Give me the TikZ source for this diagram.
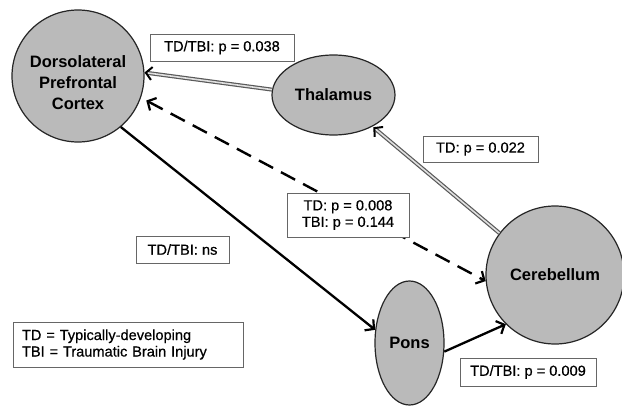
\documentclass[tikz,border=0pt]{standalone}
\usepackage{fontspec}
\setmainfont{Liberation Sans}
\newfontfamily\labfont{Liberation Sans}[FakeBold=0.5]
\usetikzlibrary{arrows.meta,shapes.geometric}
\begin{document}
\begin{tikzpicture}[x=1pt,y=-1pt,
  region/.style={draw=black!85, line width=1.2pt, fill=black!27, inner sep=0pt},
  regiontext/.style={font=\fontsize{16.5}{21}\selectfont\bfseries, align=center, inner sep=0pt},
  lab/.style={draw=black!60, line width=0.8pt, fill=white, font=\labfont\fontsize{14.6}{16.5}\selectfont, inner sep=0pt, align=center},
  chev/.style={-{Straight Barb[length=6.5pt,width=14pt,line width=2.2pt]}},
  solidarrow/.style={line width=2.3pt, chev},
  dashedarrow/.style={line width=2.4pt, dash pattern=on 16pt off 9pt, {Straight Barb[length=6.5pt,width=14pt,line width=2.2pt]}-{Straight Barb[length=6.5pt,width=14pt,line width=2.2pt]}},
  dblarrow/.style={draw=black!65, double=black!12, double distance=1.6pt, line width=1.2pt, -{Straight Barb[length=6pt,width=13pt,line width=2pt,black]}}
]
\useasboundingbox (0,0) rectangle (622,407);
% regions
\node[region, circle, minimum size=132pt] (dlpfc) at (78,76) {};
\node[regiontext] (dlpfct) at (78,83) {Dorsolateral\\Prefrontal\\Cortex};
\node[region, ellipse, minimum width=123pt, minimum height=80pt, font=\fontsize{16.5}{21}\selectfont\bfseries] (thal) at (333.5,95) {Thalamus};
\node[region, circle, minimum size=138pt, font=\fontsize{16.5}{21}\selectfont\bfseries] (cereb) at (555,275) {Cerebellum};
\node[region, ellipse, minimum width=69pt, minimum height=124pt, font=\fontsize{16.5}{21}\selectfont\bfseries] (pons) at (409.5,343) {Pons};
% connectors
\draw[dblarrow] (thal.175) -- (dlpfc.3);
\draw[dblarrow, shorten >=1pt] (cereb.143) -- (thal.-39);
\draw[dashedarrow, shorten <=6pt] (dlpfc.-19) -- (cereb.185);
\draw[solidarrow] (dlpfc.-50) -- (pons.159);
\draw[solidarrow] (pons.-14) -- (cereb.225);
% labels
\node[lab, minimum width=144pt, minimum height=27pt] (l038) at (222,47.5) {TD/TBI: p = 0.038};
\node[lab, minimum width=115pt, minimum height=26pt] (l022) at (480.5,149) {TD: p = 0.022};
\node[lab, minimum width=122pt, minimum height=44pt] (l008) at (348,215) {TD: p = 0.008\\TBI: p = 0.144};
\node[lab, minimum width=93pt, minimum height=27pt] (lns) at (182.5,249.5) {TD/TBI: ns};
\node[lab, minimum width=136pt, minimum height=28pt] (l009) at (528,372) {TD/TBI: p = 0.009};
\node[lab, align=left, text width=212pt, inner xsep=9pt, minimum height=45pt] (legend) at (128,344.5) {TD = Typically-developing\\TBI = Traumatic Brain Injury};
\end{tikzpicture}
\end{document}
